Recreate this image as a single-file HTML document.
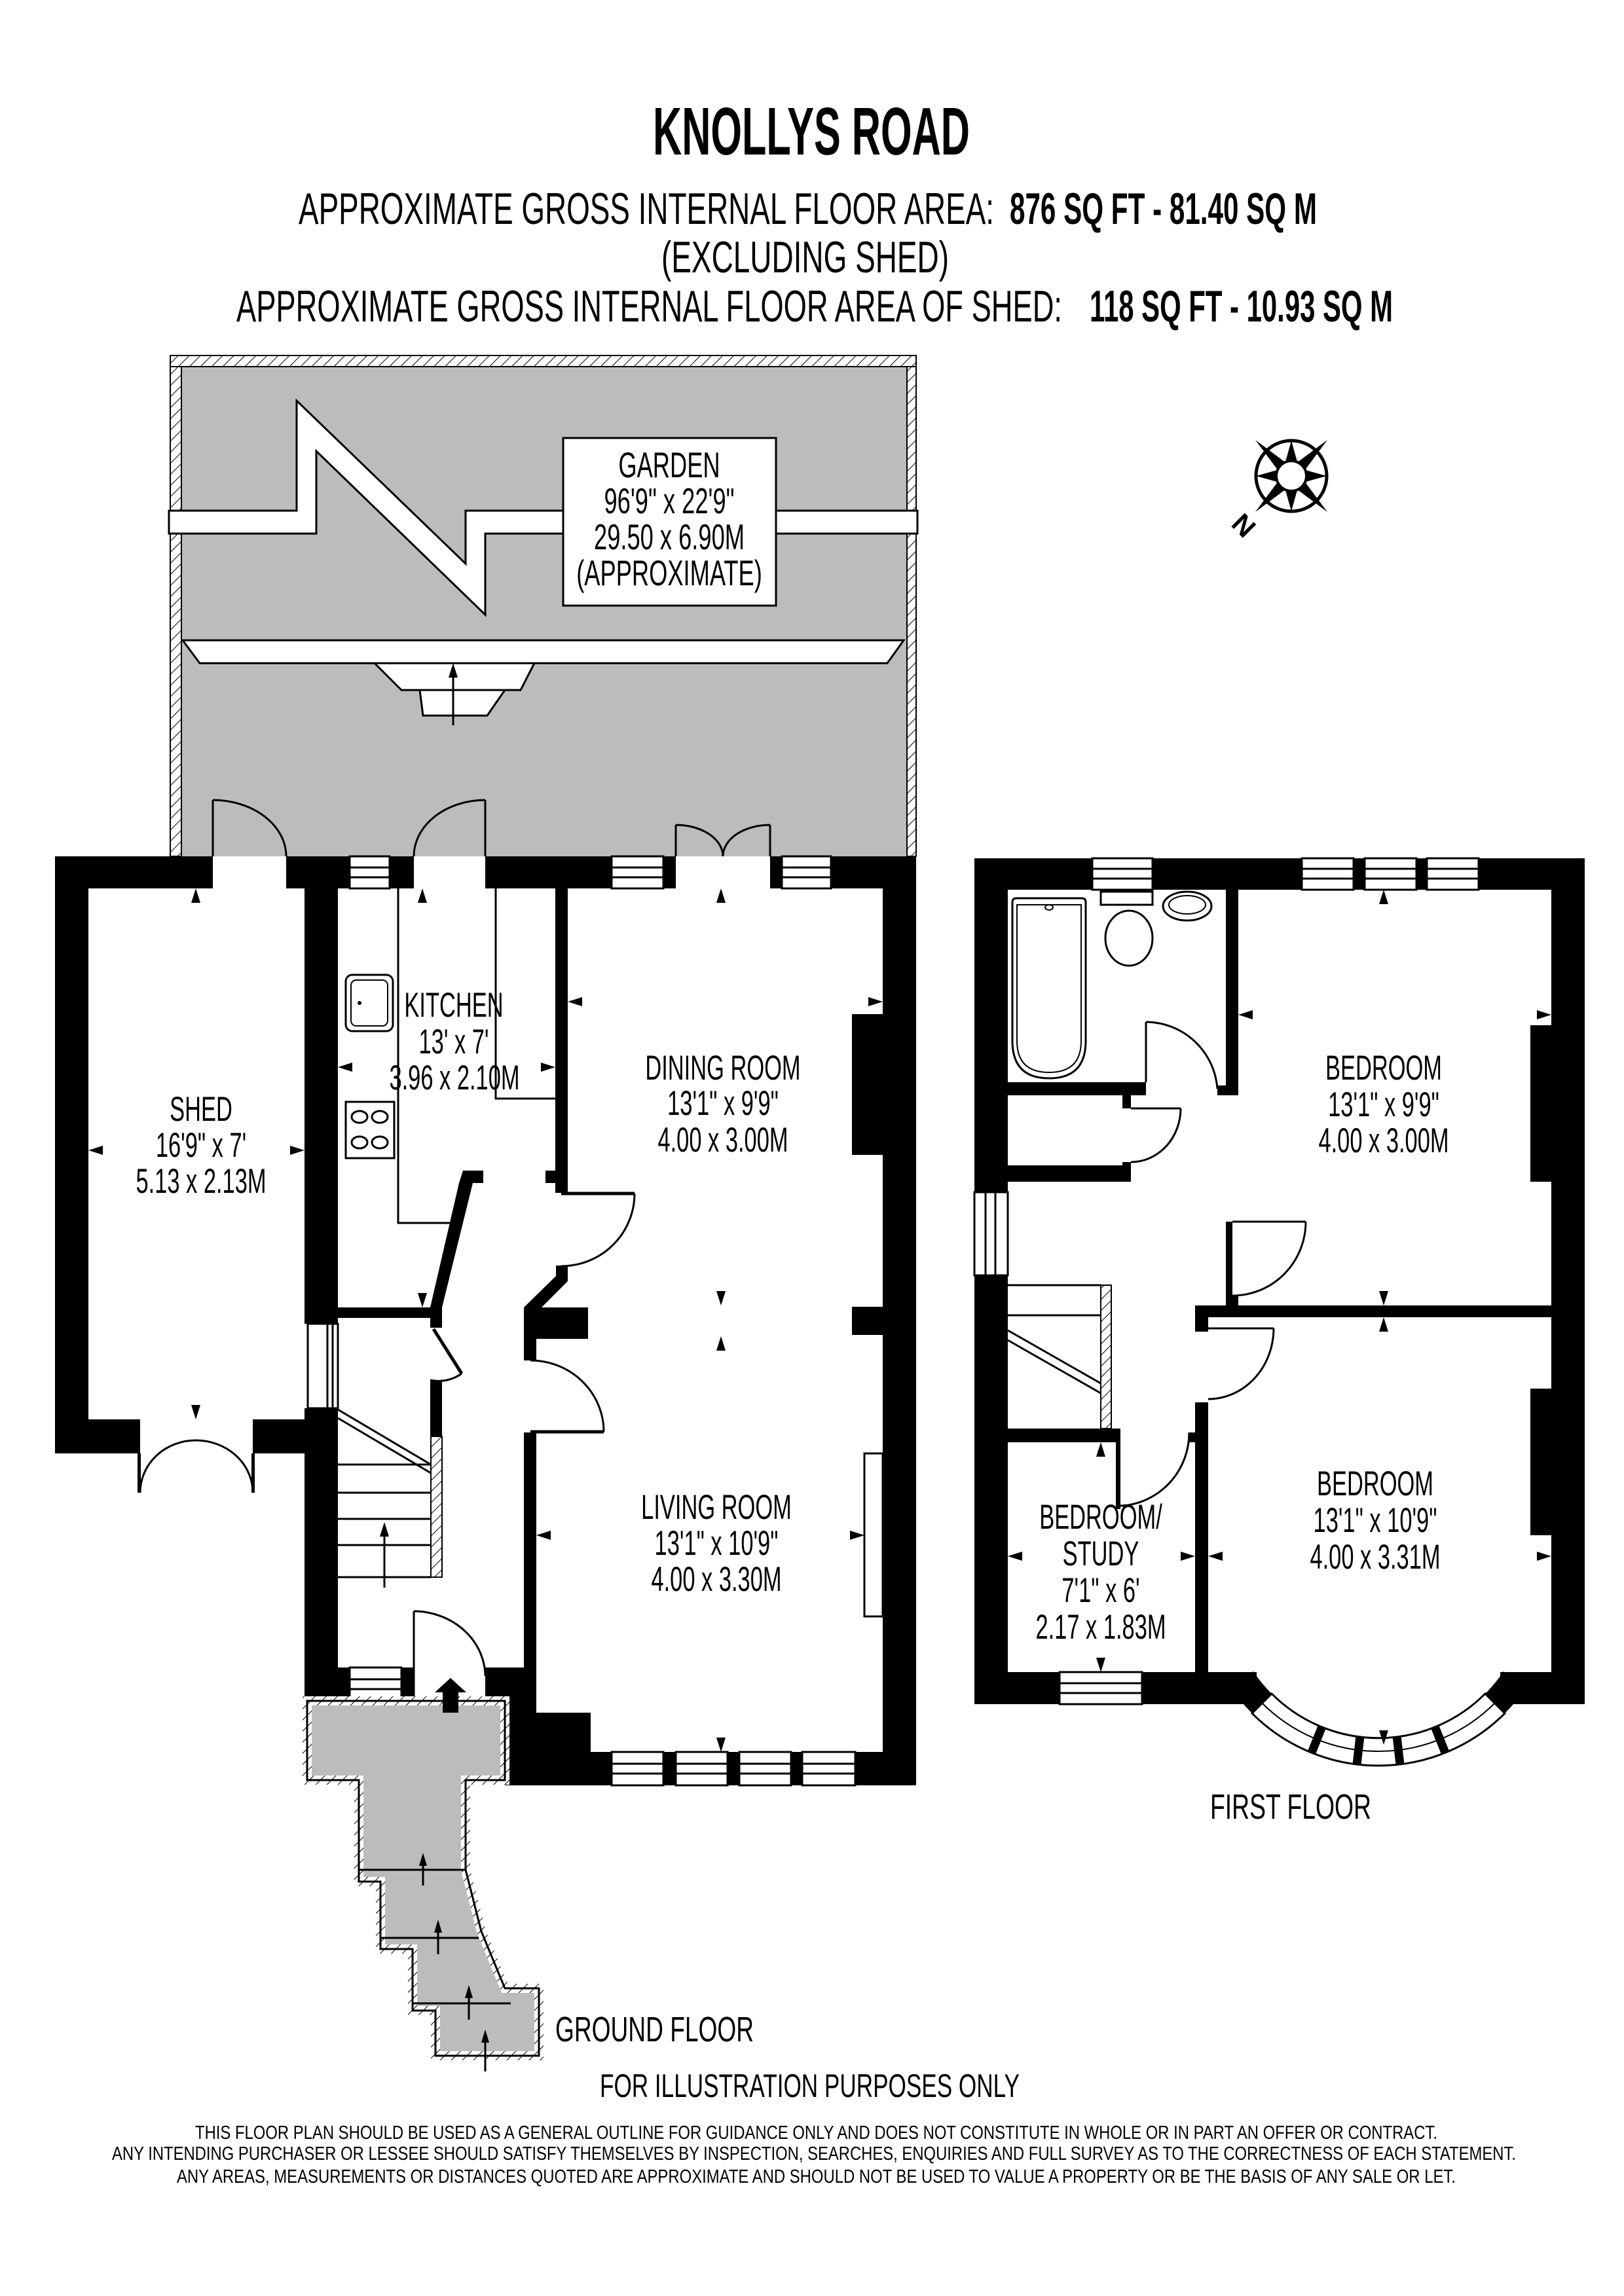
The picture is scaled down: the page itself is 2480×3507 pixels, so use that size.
<!DOCTYPE html>
<html><head><meta charset="utf-8"><style>html,body{margin:0;padding:0;background:#fff}svg{display:block}text{font-family:"Liberation Sans",Arial,sans-serif;fill:#000}</style></head><body>
<svg width="2480" height="3507" viewBox="0 0 2480 3507" xmlns="http://www.w3.org/2000/svg">
<defs>
<pattern id="h" width="12" height="12" patternUnits="userSpaceOnUse" patternTransform="rotate(45)"><rect width="12" height="12" fill="#fff"/><line x1="0" y1="0" x2="0" y2="12" stroke="#000" stroke-width="2"/></pattern>
</defs>
<rect width="2480" height="3507" fill="#fff"/>

<!-- Header -->
<text x="997" y="236" font-size="103" font-weight="bold" textLength="484" lengthAdjust="spacingAndGlyphs">KNOLLYS ROAD</text>
<text x="456" y="342" font-size="68" textLength="1062" lengthAdjust="spacingAndGlyphs">APPROXIMATE GROSS INTERNAL FLOOR AREA:</text>
<text x="1542" y="342" font-size="68" font-weight="bold" textLength="469" lengthAdjust="spacingAndGlyphs">876 SQ FT  -  81.40 SQ M</text>
<text x="1010" y="416" font-size="68" textLength="439" lengthAdjust="spacingAndGlyphs">(EXCLUDING SHED)</text>
<text x="361" y="491" font-size="68" textLength="1261" lengthAdjust="spacingAndGlyphs">APPROXIMATE GROSS INTERNAL FLOOR AREA OF SHED:</text>
<text x="1664" y="491" font-size="68" font-weight="bold" textLength="463" lengthAdjust="spacingAndGlyphs">118 SQ FT  -  10.93 SQ M</text>

<!-- Compass -->
<g transform="translate(1972 727)">
<circle r="54" fill="none" stroke="#000" stroke-width="5"/>
<polygon points="-55,-55 -14,0 0,0 0,-14" fill="#000"/>
<polygon points="55,-55 0,-14 0,0 14,0" fill="#000"/>
<polygon points="-55,55 0,14 0,0 -14,0" fill="#000"/>
<polygon points="55,55 14,0 0,0 0,14" fill="#000"/>
<polygon points="0,-54 -10,-18 10,-18" fill="#000"/>
<polygon points="0,54 -10,18 10,18" fill="#000"/>
<polygon points="-54,0 -18,-10 -18,10" fill="#000"/>
<polygon points="54,0 18,-10 18,10" fill="#000"/>
<circle r="23" fill="#fff" stroke="#000" stroke-width="4"/>
</g>
<text transform="translate(1897 805) rotate(45)" font-size="42" font-weight="bold" text-anchor="middle" dominant-baseline="middle">N</text>

<!-- Garden -->
<rect x="277" y="560" width="1108" height="748" fill="#bcbcbc"/>
<rect x="260" y="543" width="1139" height="17" fill="url(#h)" stroke="#000" stroke-width="2"/>
<rect x="260" y="560" width="17" height="220" fill="url(#h)" stroke="#000" stroke-width="2"/>
<rect x="260" y="815" width="17" height="493" fill="url(#h)" stroke="#000" stroke-width="2"/>
<rect x="1385" y="560" width="14" height="220" fill="url(#h)" stroke="#000" stroke-width="2"/>
<rect x="1385" y="815" width="14" height="493" fill="url(#h)" stroke="#000" stroke-width="2"/>
<polygon points="258,780 453,780 453,612 711,861 711,780 1401,780 1401,815 741,815 741,939 483,689 483,815 258,815" fill="#fff" stroke="#000" stroke-width="3"/>
<rect x="860" y="669" width="325" height="256" fill="#fff" stroke="#000" stroke-width="3"/>
<g font-size="55" text-anchor="middle">
<text transform="translate(1022 729) scale(.66 1)">GARDEN</text>
<text transform="translate(1022 784) scale(.66 1)">96'9" x 22'9"</text>
<text transform="translate(1022 839) scale(.66 1)">29.50 x 6.90M</text>
<text transform="translate(1022 894) scale(.66 1)">(APPROXIMATE)</text>
</g>
<polygon points="279,978 1380,978 1355,1013 305,1013" fill="#fff" stroke="#000" stroke-width="3"/>
<polygon points="572,1013 613,1054 795,1054 816,1013" fill="#fff" stroke="#000" stroke-width="3"/>
<polygon points="641,1054 646,1093 744,1093 771,1054" fill="#fff" stroke="#000" stroke-width="3"/>
<line x1="692" y1="1108" x2="692" y2="1025" stroke="#000" stroke-width="3"/>
<polygon points="692,1013 685,1035 699,1035" fill="#000"/>

<!-- GROUND FLOOR -->
<g fill="#000">
<rect x="84" y="1308" width="51" height="912"/>
<rect x="84" y="1308" width="241" height="49"/>
<rect x="437" y="1308" width="97" height="49"/>
<rect x="595" y="1308" width="37" height="49"/>
<rect x="741" y="1308" width="193" height="49"/>
<rect x="1013" y="1308" width="19" height="49"/>
<rect x="1176" y="1308" width="18" height="49"/>
<rect x="1269" y="1308" width="130" height="49"/>
<rect x="465" y="1308" width="51" height="714"/>
<rect x="465" y="2151" width="51" height="447"/>
<rect x="84" y="2168" width="130" height="52"/>
<rect x="386" y="2168" width="79" height="52"/>
<rect x="210" y="2220" width="5" height="60"/>
<rect x="384" y="2220" width="5" height="60"/>
<rect x="1348" y="1308" width="51" height="1419"/>
<rect x="771" y="2676" width="628" height="51"/>
<polygon points="741,2547 819,2547 819,2616 902,2616 902,2727 771,2727 771,2598 741,2598"/>
<rect x="516" y="2547" width="18" height="51"/>
<rect x="613" y="2547" width="19" height="51"/>
<rect x="800" y="2188" width="19" height="367"/>
<polygon points="849,1933 867,1933 867,1957 827,1997 898,1997 898,2045 819,2045 819,2078 800,2078 800,1997 849,1949"/>
<rect x="848" y="1357" width="19" height="465"/>
<rect x="833" y="1788" width="34" height="19"/>
<rect x="1301" y="1549" width="47" height="215"/>
<rect x="1301" y="1996" width="47" height="43"/>
<rect x="516" y="1997" width="159" height="16"/>
<polygon points="707,1788 738,1788 738,1807 722,1807 675,1997 675,2028 657,2028 657,1997 701,1807"/>
<rect x="657" y="2108" width="18" height="86"/>
</g>
<!-- windows ground -->
<g fill="#fff" stroke="#000" stroke-width="3">
<rect x="534" y="1308" width="61" height="49"/><line x1="534" y1="1325" x2="595" y2="1325"/><line x1="534" y1="1340" x2="595" y2="1340"/>
<rect x="934" y="1308" width="79" height="49"/><line x1="934" y1="1325" x2="1013" y2="1325"/><line x1="934" y1="1340" x2="1013" y2="1340"/>
<rect x="1194" y="1308" width="75" height="49"/><line x1="1194" y1="1325" x2="1269" y2="1325"/><line x1="1194" y1="1340" x2="1269" y2="1340"/>
<rect x="470" y="2022" width="46" height="129"/><line x1="500" y1="2022" x2="500" y2="2151"/><line x1="508" y1="2022" x2="508" y2="2151"/>
<rect x="534" y="2547" width="79" height="51"/><line x1="534" y1="2565" x2="613" y2="2565"/><line x1="534" y1="2580" x2="613" y2="2580"/>
<rect x="934" y="2676" width="79" height="51"/><line x1="934" y1="2694" x2="1013" y2="2694"/><line x1="934" y1="2709" x2="1013" y2="2709"/>
<rect x="1032" y="2676" width="79" height="51"/><line x1="1032" y1="2694" x2="1111" y2="2694"/><line x1="1032" y1="2709" x2="1111" y2="2709"/>
<rect x="1129" y="2676" width="79" height="51"/><line x1="1129" y1="2694" x2="1208" y2="2694"/><line x1="1129" y1="2709" x2="1208" y2="2709"/>
<rect x="1225" y="2676" width="81" height="51"/><line x1="1225" y1="2694" x2="1306" y2="2694"/><line x1="1225" y1="2709" x2="1306" y2="2709"/>
<rect x="1320" y="2220" width="28" height="249"/>
</g>
<!-- doors ground -->
<g fill="none" stroke="#000" stroke-width="3">
<line x1="325" y1="1308" x2="325" y2="1222"/><path d="M325,1222 A112,86 0 0 1 437,1308"/>
<line x1="741" y1="1308" x2="741" y2="1222"/><path d="M741,1222 A109,86 0 0 0 632,1308"/>
<line x1="1032" y1="1308" x2="1032" y2="1260"/><path d="M1032,1260 A72,48 0 0 1 1104,1308"/>
<line x1="1176" y1="1308" x2="1176" y2="1260"/><path d="M1176,1260 A72,48 0 0 0 1104,1308"/>
<path d="M214,2280 A85,80 0 0 1 299,2200 A87,80 0 0 1 386,2280"/>
<line x1="857" y1="1823" x2="969" y2="1823" stroke-width="5"/><path d="M969,1823 A112,111 0 0 1 857,1934"/>
<line x1="810" y1="2187" x2="922" y2="2187" stroke-width="5"/><path d="M810,2078 A112,109 0 0 1 922,2187"/>
<line x1="662" y1="2030" x2="705" y2="2098" stroke-width="5"/><path d="M705,2098 A60,60 0 0 1 657,2108"/>
<line x1="632" y1="2598" x2="632" y2="2461"/><path d="M632,2461 A110,100 0 0 1 741,2560"/>
<polyline points="608,1357 608,1868 688,1868"/>
<polyline points="757,1357 757,1678 848,1678"/>
</g>
<!-- kitchen fixtures -->
<rect x="528" y="1489" width="72" height="86" rx="10" fill="#fff" stroke="#000" stroke-width="3"/>
<rect x="536" y="1497" width="56" height="70" rx="8" fill="none" stroke="#000" stroke-width="2"/>
<circle cx="549" cy="1532" r="3" fill="#000"/>
<rect x="528" y="1683" width="74" height="86" fill="#fff" stroke="#000" stroke-width="3"/>
<g fill="none" stroke="#000" stroke-width="3"><ellipse cx="549" cy="1706" rx="12" ry="9"/><ellipse cx="580" cy="1706" rx="12" ry="9"/><ellipse cx="549" cy="1745" rx="12" ry="9"/><ellipse cx="580" cy="1745" rx="12" ry="9"/></g>
<!-- stairs ground -->
<rect x="658" y="2194" width="17" height="215" fill="url(#h)" stroke="#000" stroke-width="2"/>
<g stroke="#000" stroke-width="3">
<line x1="516" y1="2153" x2="658" y2="2237"/><line x1="516" y1="2166" x2="658" y2="2250"/>
<line x1="516" y1="2237" x2="658" y2="2237"/>
<line x1="516" y1="2280" x2="658" y2="2280"/>
<line x1="516" y1="2320" x2="658" y2="2320"/>
<line x1="516" y1="2360" x2="658" y2="2360"/>
<line x1="516" y1="2409" x2="658" y2="2409"/>
<line x1="587" y1="2425" x2="587" y2="2335"/>
</g>
<polygon points="587,2325 580,2347 594,2347" fill="#000"/>
<!-- porch -->
<polygon points="469,2598 771,2598 771,2719 711,2719 711,2856 735,2950 771,3037 823,3037 823,3140 665,3140 665,3071 630,3071 630,2977 581,2977 581,2874 548,2874 548,2719 469,2719" fill="#bcbcbc" stroke="url(#h)" stroke-width="14"/>
<polygon points="469,2598 771,2598 771,2719 711,2719 711,2856 735,2950 771,3037 823,3037 823,3140 665,3140 665,3071 630,3071 630,2977 581,2977 581,2874 548,2874 548,2719 469,2719" fill="none" stroke="#000" stroke-width="3"/>
<g stroke="#000" stroke-width="3">
<line x1="548" y1="2856" x2="711" y2="2856"/>
<line x1="581" y1="2960" x2="731" y2="2960"/>
<line x1="630" y1="3060" x2="780" y2="3060"/>
<line x1="646" y1="2880" x2="646" y2="2840"/>
<line x1="669" y1="2985" x2="669" y2="2940"/>
<line x1="716" y1="3085" x2="716" y2="3040"/>
<line x1="741" y1="3164" x2="741" y2="3110"/>
</g>
<g fill="#000">
<polygon points="646,2830 640,2850 652,2850"/>
<polygon points="669,2932 663,2952 675,2952"/>
<polygon points="716,3032 710,3052 722,3052"/>
<polygon points="741,3100 735,3120 747,3120"/>
<polygon points="688,2563 712,2585 700,2585 700,2616 676,2616 676,2585 664,2585"/>
</g>
<!-- ground markers -->
<g fill="#000">
<polygon points="299,1357 292,1379 306,1379"/>
<polygon points="645,1357 638,1379 652,1379"/>
<polygon points="1101,1357 1094,1379 1108,1379"/>
<polygon points="1101,2041 1094,2063 1108,2063"/>
<polygon points="645,1997 638,1975 652,1975"/>
<polygon points="299,2168 292,2146 306,2146"/>
<polygon points="1101,1994 1094,1972 1108,1972"/>
<polygon points="1101,2676 1094,2654 1108,2654"/>
<polygon points="135,1757 157,1750 157,1764"/>
<polygon points="516,1630 538,1623 538,1637"/>
<polygon points="867,1530 889,1523 889,1537"/>
<polygon points="819,2345 841,2338 841,2352"/>
<polygon points="465,1757 443,1750 443,1764"/>
<polygon points="848,1630 826,1623 826,1637"/>
<polygon points="1348,1530 1326,1523 1326,1537"/>
<polygon points="1320,2345 1298,2338 1298,2352"/>
</g>
<!-- ground labels -->
<g font-size="53" text-anchor="middle">
<text transform="translate(307 1712) scale(.65 1)">SHED</text>
<text transform="translate(307 1767) scale(.65 1)">16'9" x 7'</text>
<text transform="translate(307 1822) scale(.65 1)">5.13 x 2.13M</text>
<text transform="translate(693 1553) scale(.65 1)">KITCHEN</text>
<text transform="translate(693 1609) scale(.65 1)">13' x 7'</text>
<text transform="translate(694 1664) scale(.65 1)">3.96 x 2.10M</text>
<text transform="translate(1104 1649) scale(.65 1)">DINING ROOM</text>
<text transform="translate(1104 1703) scale(.65 1)">13'1" x 9'9"</text>
<text transform="translate(1104 1759) scale(.65 1)">4.00 x 3.00M</text>
<text transform="translate(1094 2320) scale(.65 1)">LIVING ROOM</text>
<text transform="translate(1094 2375) scale(.65 1)">13'1" x 10'9"</text>
<text transform="translate(1094 2430) scale(.65 1)">4.00 x 3.30M</text>
</g>

<!-- FIRST FLOOR -->
<g fill="#000">
<rect x="1488" y="1311" width="932" height="48"/>
<rect x="1488" y="1311" width="51" height="1292"/>
<rect x="2369" y="1311" width="51" height="1292"/>
<rect x="1488" y="2554" width="431" height="49"/>
<rect x="2291" y="2554" width="129" height="49"/>
<rect x="1872" y="1359" width="19" height="314"/>
<rect x="1859" y="1658" width="32" height="15"/>
<rect x="1872" y="1866" width="10" height="128"/>
<rect x="1872" y="1979" width="19" height="33"/>
<rect x="1539" y="1653" width="211" height="20"/>
<rect x="1539" y="1780" width="188" height="25"/>
<rect x="1714" y="1673" width="13" height="20"/>
<rect x="1714" y="1775" width="13" height="30"/>
<rect x="1539" y="2182" width="172" height="21"/>
<rect x="1704" y="2182" width="7" height="123"/>
<rect x="1816" y="2188" width="9" height="15"/>
<rect x="1825" y="2142" width="20" height="461"/>
<rect x="1825" y="1994" width="544" height="18"/>
<rect x="1825" y="1994" width="20" height="40"/>
<rect x="2337" y="1566" width="32" height="239"/>
<rect x="2337" y="2121" width="32" height="224"/>
</g>
<!-- bay -->
<path d="M1879,2577 A273,273 0 0 0 2331,2577 L2296,2553 A230,230 0 0 1 1914,2553 Z" fill="#000"/>
<path d="M1912,2617 A273,273 0 0 0 2298,2617 L2268,2587 A230,230 0 0 1 1942,2587 Z" fill="#fff" stroke="#000" stroke-width="3"/>
<path d="M1927,2601 A251,251 0 0 0 2283,2601" fill="none" stroke="#000" stroke-width="2"/>
<g stroke="#000" stroke-width="13">
<line x1="2019" y1="2637" x2="2003" y2="2677"/>
<line x1="2077" y1="2652" x2="2072" y2="2695"/>
<line x1="2133" y1="2652" x2="2138" y2="2695"/>
<line x1="2191" y1="2637" x2="2207" y2="2677"/>
</g>
<!-- windows first -->
<g fill="#fff" stroke="#000" stroke-width="3">
<rect x="1668" y="1311" width="92" height="48"/><line x1="1668" y1="1327" x2="1760" y2="1327"/><line x1="1668" y1="1342" x2="1760" y2="1342"/>
<rect x="1988" y="1311" width="79" height="48"/><line x1="1988" y1="1327" x2="2067" y2="1327"/><line x1="1988" y1="1342" x2="2067" y2="1342"/>
<rect x="2084" y="1311" width="79" height="48"/><line x1="2084" y1="1327" x2="2163" y2="1327"/><line x1="2084" y1="1342" x2="2163" y2="1342"/>
<rect x="2179" y="1311" width="79" height="48"/><line x1="2179" y1="1327" x2="2258" y2="1327"/><line x1="2179" y1="1342" x2="2258" y2="1342"/>
<rect x="1488" y="1821" width="51" height="127"/><line x1="1505" y1="1821" x2="1505" y2="1948"/><line x1="1520" y1="1821" x2="1520" y2="1948"/>
<rect x="1618" y="2554" width="126" height="49"/><line x1="1618" y1="2571" x2="1744" y2="2571"/><line x1="1618" y1="2586" x2="1744" y2="2586"/>
</g>
<!-- first doors -->
<g fill="none" stroke="#000" stroke-width="3">
<line x1="1750" y1="1561" x2="1750" y2="1653"/><path d="M1750,1561 A110,110 0 0 1 1859,1663"/>
<line x1="1727" y1="1693" x2="1803" y2="1693"/><path d="M1803,1693 A76,82 0 0 1 1727,1775"/>
<line x1="1882" y1="1866" x2="1994" y2="1866"/><path d="M1994,1866 A112,113 0 0 1 1882,1979"/>
<line x1="1845" y1="2029" x2="1945" y2="2029"/><path d="M1945,2029 A100,108 0 0 1 1845,2137"/>
<path d="M1711,2300 A110,112 0 0 0 1816,2188"/>
</g>
<!-- stairs first -->
<rect x="1681" y="1963" width="16" height="219" fill="url(#h)" stroke="#000" stroke-width="2"/>
<g stroke="#000" stroke-width="3">
<line x1="1539" y1="1963" x2="1681" y2="1963"/>
<line x1="1539" y1="2009" x2="1681" y2="2009"/>
<line x1="1539" y1="2032" x2="1681" y2="2113"/>
<line x1="1539" y1="2047" x2="1681" y2="2128"/>
</g>
<!-- bathroom fixtures -->
<path d="M1546,1378 Q1546,1372 1552,1372 L1652,1372 Q1658,1372 1658,1378 L1658,1590 Q1658,1647 1602,1647 Q1546,1647 1546,1590 Z" fill="#fff" stroke="#000" stroke-width="3"/>
<path d="M1553,1382 L1651,1382 L1651,1590 Q1651,1638 1602,1638 Q1553,1638 1553,1590 Z" fill="none" stroke="#000" stroke-width="2"/>
<ellipse cx="1602" cy="1386" rx="6" ry="4" fill="none" stroke="#000" stroke-width="2"/>
<rect x="1681" y="1362" width="79" height="20" fill="#fff" stroke="#000" stroke-width="3"/>
<ellipse cx="1724" cy="1433" rx="36" ry="42" fill="#fff" stroke="#000" stroke-width="3"/>
<ellipse cx="1813" cy="1384" rx="37" ry="22" fill="#fff" stroke="#000" stroke-width="3"/>
<ellipse cx="1813" cy="1382" rx="28" ry="14" fill="none" stroke="#000" stroke-width="2"/>
<!-- first markers -->
<g fill="#000">
<polygon points="2113,1359 2106,1381 2120,1381"/>
<polygon points="2113,1994 2106,1972 2120,1972"/>
<polygon points="2113,2012 2106,2034 2120,2034"/>
<polygon points="2113,2665 2106,2643 2120,2643"/>
<polygon points="1681,2203 1674,2225 1688,2225"/>
<polygon points="1681,2554 1674,2532 1688,2532"/>
<polygon points="1891,1550 1913,1543 1913,1557"/>
<polygon points="2369,1550 2347,1543 2347,1557"/>
<polygon points="1845,2377 1867,2370 1867,2384"/>
<polygon points="2369,2377 2347,2370 2347,2384"/>
<polygon points="1539,2377 1561,2370 1561,2384"/>
<polygon points="1825,2377 1803,2370 1803,2384"/>
</g>
<g font-size="53" text-anchor="middle">
<text transform="translate(2113 1649) scale(.65 1)">BEDROOM</text>
<text transform="translate(2113 1705) scale(.65 1)">13'1" x 9'9"</text>
<text transform="translate(2113 1760) scale(.65 1)">4.00 x 3.00M</text>
<text transform="translate(2100 2284) scale(.65 1)">BEDROOM</text>
<text transform="translate(2100 2340) scale(.65 1)">13'1" x 10'9"</text>
<text transform="translate(2100 2396) scale(.65 1)">4.00 x 3.31M</text>
<text transform="translate(1681 2335) scale(.65 1)">BEDROOM/</text>
<text transform="translate(1681 2391) scale(.65 1)">STUDY</text>
<text transform="translate(1681 2447) scale(.65 1)">7'1" x 6'</text>
<text transform="translate(1681 2503) scale(.65 1)">2.17 x 1.83M</text>
</g>

<!-- Footer -->
<text x="1848" y="2778" font-size="54" textLength="246" lengthAdjust="spacingAndGlyphs">FIRST FLOOR</text>
<text x="848" y="3118" font-size="54" textLength="303" lengthAdjust="spacingAndGlyphs">GROUND FLOOR</text>
<text x="916" y="3203" font-size="50" textLength="641" lengthAdjust="spacingAndGlyphs">FOR ILLUSTRATION PURPOSES ONLY</text>
<text x="298" y="3267" font-size="29" textLength="1897" lengthAdjust="spacingAndGlyphs">THIS FLOOR PLAN SHOULD BE USED AS A GENERAL OUTLINE FOR GUIDANCE ONLY AND DOES NOT CONSTITUTE IN WHOLE OR IN PART AN OFFER OR CONTRACT.</text>
<text x="171" y="3299" font-size="29" textLength="2144" lengthAdjust="spacingAndGlyphs">ANY INTENDING PURCHASER OR LESSEE SHOULD SATISFY THEMSELVES BY INSPECTION, SEARCHES, ENQUIRIES AND FULL SURVEY AS TO THE CORRECTNESS OF EACH STATEMENT.</text>
<text x="270" y="3334" font-size="29" textLength="1953" lengthAdjust="spacingAndGlyphs">ANY AREAS, MEASUREMENTS OR DISTANCES QUOTED ARE APPROXIMATE AND SHOULD NOT BE USED TO VALUE A PROPERTY OR BE THE BASIS OF ANY SALE OR LET.</text>
</svg>
</body></html>
